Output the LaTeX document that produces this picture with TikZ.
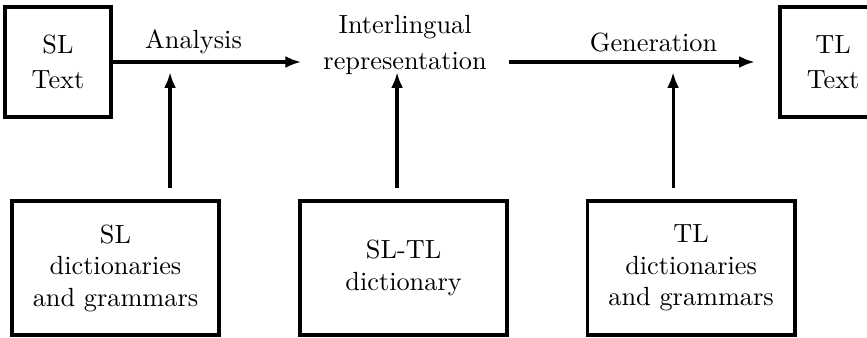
\documentclass[tikz,border=0pt]{standalone}
\usetikzlibrary{arrows.meta}
\begin{document}
\begin{tikzpicture}
  [box/.style={draw, line width=1.4pt, align=center, inner sep=0pt},
   link/.style={-{Latex[length=6pt,width=4.5pt]}, line width=1.2pt}]
  \useasboundingbox (0,0) rectangle (11.59,4.506);

  \node[box, minimum width=1.42cm, minimum height=1.47cm] (sltext) at (0.775,3.677) {SL\\[1.5pt]Text};
  \node[align=center, inner xsep=0.29cm, inner ysep=0pt] (inter) at (5.415,3.904) {Interlingual\\[1.8pt]representation};
  \node[box, minimum width=1.42cm, minimum height=1.47cm] (tltext) at (11.137,3.677) {TL\\[1.5pt]Text};

  \node (analysis) at (2.587,3.944) {Analysis};
  \node (generation) at (8.737,3.944) {Generation};

  \node[box, minimum width=2.77cm, minimum height=1.79cm] (sldict) at (1.544,0.922) {SL\\dictionaries\\and grammars};
  \node[box, minimum width=2.77cm, minimum height=1.79cm] (sltldict) at (5.395,0.922) {SL-TL\\dictionary};
  \node[box, minimum width=2.77cm, minimum height=1.79cm] (tldict) at (9.239,0.922) {TL\\dictionaries\\and grammars};

  \coordinate (up1) at (2.273,3.543);
  \coordinate (up2) at (5.308,3.543);
  \coordinate (up3) at (8.998,3.543);

  \draw[link] (sltext.east) -- (sltext.east -| inter.west);
  \draw[link, shorten >=0.31cm] (inter.east |- tltext.west) -- (tltext.west);
  \foreach \from/\to in {sldict/up1, sltldict/up2, tldict/up3}
    \draw[link, shorten <=0.15cm] (\to |- \from.north) -- (\to);
\end{tikzpicture}
\end{document}
